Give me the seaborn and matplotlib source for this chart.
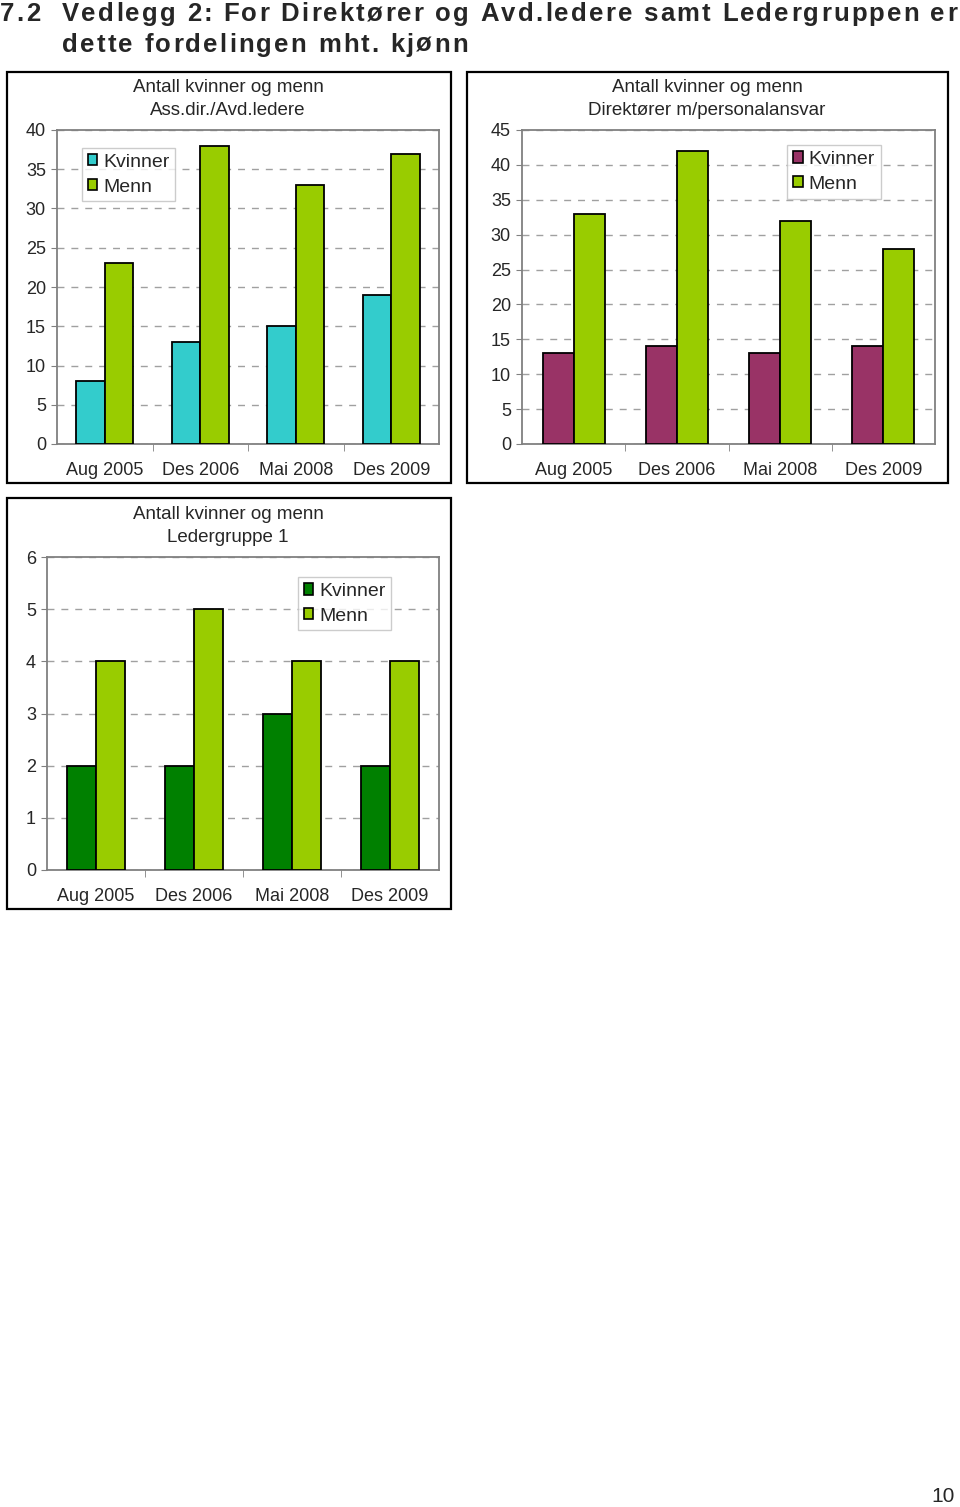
import numpy as np
import pandas as pd
import seaborn as sns
import matplotlib.pyplot as plt
from matplotlib.patches import Rectangle
from matplotlib.ticker import FixedLocator
from matplotlib.font_manager import FontProperties

# data
perioder = ["Aug 2005", "Des 2006", "Mai 2008", "Des 2009"]
kjonn = ["Kvinner", "Menn"]

kvinner_ass = [8, 13, 15, 19]
menn_ass = [23, 38, 33, 37]

kvinner_dir = [13, 14, 13, 14]
menn_dir = [33, 42, 32, 28]

kvinner_lg = [2, 2, 3, 2]
menn_lg = [4, 5, 4, 4]

titler = ["Antall kvinner og menn\nAss.dir./Avd.ledere",
          "Antall kvinner og menn\nDirektører m/personalansvar",
          "Antall kvinner og menn\nLedergruppe 1"]

overskrift = ["Vedlegg 2: For Direktører og Avd.ledere samt Ledergruppen er",
              "dette fordelingen mht. kjønn"]

sns.set_style("white")
plt.rcParams['font.family'] = ['Liberation Sans', 'DejaVu Sans']

W, H = 960, 1507
fig = plt.figure(figsize=(W / 100, H / 100), dpi=100)


def fx(px):
    return px / W


def fy(px):
    return 1 - px / H


def make_df(kv, me):
    return pd.DataFrame({
        "Periode": perioder * 2,
        "Antall": kv + me,
        "Kjønn": ["Kvinner"] * 4 + ["Menn"] * 4,
    })


def panel(box, frame, title_xy, df, colors, ymax, ystep, leg_anchor):
    # outer frame of the chart object
    x0, y0, x1, y1 = frame
    fig.patches.append(Rectangle((fx(x0), fy(y1)), fx(x1 - x0), (y1 - y0) / H,
                                 transform=fig.transFigure, fill=False,
                                 edgecolor="black", linewidth=1.6))
    l, t, r, b = box
    ax = fig.add_axes([fx(l), fy(b), fx(r - l), (b - t) / H])
    sns.barplot(data=df, x="Periode", y="Antall", hue="Kjønn", hue_order=kjonn,
                palette=colors, width=0.6, edgecolor="black", linewidth=1.3,
                saturation=1, ax=ax, zorder=3)
    ax.set_xlim(-0.5, 3.5)
    ax.set_ylim(0, ymax)
    ax.set_yticks(np.arange(0, ymax + 0.1, ystep))
    ax.yaxis.grid(True, linestyle=(0, (5, 5)), color="#a0a0a0", linewidth=1.0, zorder=0)
    ax.set_axisbelow(True)
    for s in ax.spines.values():
        s.set_color("#808080")
        s.set_linewidth(1.3)
    ax.set_xlabel("")
    ax.set_ylabel("")
    ax.tick_params(axis="x", which="major", length=0, pad=13, labelsize=13)
    ax.xaxis.set_minor_locator(FixedLocator([0.5, 1.5, 2.5]))
    ax.tick_params(axis="x", which="minor", length=5, color="#808080", direction="out", bottom=True)
    ax.tick_params(axis="y", length=4, color="#808080", direction="out", left=True, pad=4, labelsize=13)
    leg = ax.legend(loc="upper left", bbox_to_anchor=leg_anchor, borderaxespad=0, frameon=True,
                    fancybox=False, edgecolor="#c0c0c0", fontsize=14, handlelength=0.5,
                    handleheight=0.5, handletextpad=0.3, labelspacing=0.4, borderpad=0.3)
    for h in leg.legend_handles:
        h.set_linewidth(1.2)
    fig.text(fx(title_xy[0]), fy(title_xy[1]), titler[title_xy[2]], ha="center", va="center",
             fontsize=13.5, linespacing=1.4)
    return ax


panel((57, 130, 439, 444), (7, 72, 451, 483), (228, 99, 0),
      make_df(kvinner_ass, menn_ass), ["#33CCCC", "#99CC00"], 40, 5, (0.065, 0.943))
panel((522, 130, 935, 444), (467, 72, 948, 483), (707, 99, 1),
      make_df(kvinner_dir, menn_dir), ["#993366", "#99CC00"], 45, 5, (0.642, 0.952))
panel((47, 557, 439, 870), (7, 498, 451, 909), (228, 526, 2),
      make_df(kvinner_lg, menn_lg), ["#008000", "#99CC00"], 6, 1, (0.640, 0.936))

# heading with wide letter spacing, placed char by char
fp = FontProperties(family=['Liberation Sans', 'DejaVu Sans'], weight='bold', size=18.5)
renderer = fig.canvas.get_renderer()


def adv(ch):
    w1 = renderer.get_text_width_height_descent("|" + ch + "|", fp, ismath=False)[0]
    w0 = renderer.get_text_width_height_descent("||", fp, ismath=False)[0]
    return w1 - w0


def tracked(x, y, s, track):
    for ch in s:
        if ch != " ":
            fig.text(fx(x), fy(y), ch, fontproperties=fp, va="center", ha="left")
        x += adv(ch) + track


natural = sum(adv(c) for c in overskrift[0])
track = (957 - 62 - natural) / (len(overskrift[0]) - 1)
tracked(0, 14, "7.2", track)
tracked(62, 14, overskrift[0], track)
tracked(62, 45, overskrift[1], track)

fig.text(fx(955), fy(1497), "10", fontsize=15, ha="right", va="center")

fig.savefig("out.png", dpi=100)
